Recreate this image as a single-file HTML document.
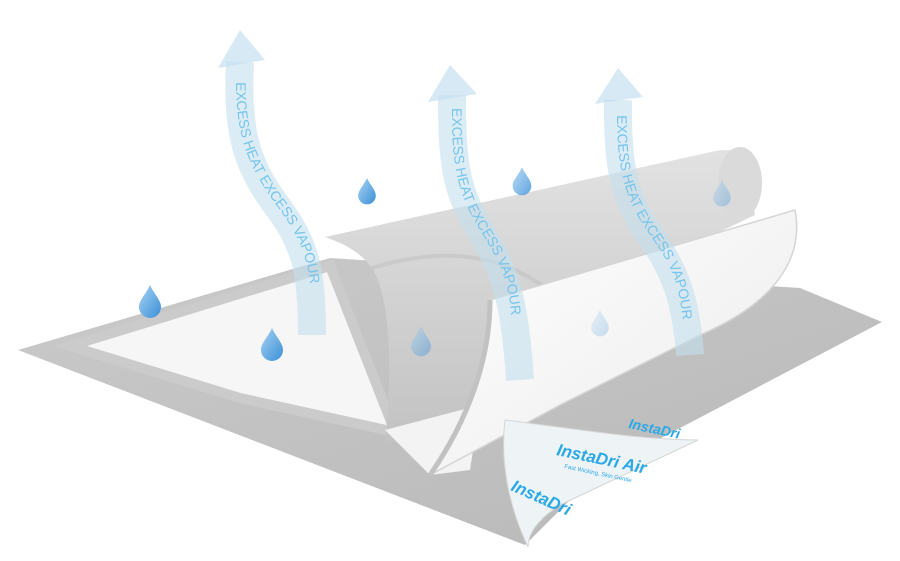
<!DOCTYPE html>
<html><head><meta charset="utf-8"><style>
html,body{margin:0;padding:0;background:#fff;width:900px;height:561px;overflow:hidden}
</style></head><body>
<svg width="900" height="561" viewBox="0 0 900 561" xmlns="http://www.w3.org/2000/svg">
<defs>
<linearGradient id="drop" x1="0" y1="0" x2="1" y2="1"><stop offset="0" stop-color="#a8d4f4"/><stop offset="1" stop-color="#3b8fd6"/></linearGradient>
<linearGradient id="grayl" x1="0" y1="0" x2="0" y2="1"><stop offset="0" stop-color="#e2e2e2"/><stop offset="1" stop-color="#c2c2c2"/></linearGradient>
<linearGradient id="whitec" x1="0" y1="0" x2="1" y2="1"><stop offset="0" stop-color="#ffffff"/><stop offset="1" stop-color="#ebebeb"/></linearGradient>
<linearGradient id="base" x1="0" y1="0" x2="1" y2="1"><stop offset="0" stop-color="#cacaca"/><stop offset="1" stop-color="#b8b8b8"/></linearGradient>
<path id="d" d="M0,-15 C4,-6 11,0 11,7 A11,11 0 0 1 -11,7 C-11,0 -4,-6 0,-15 Z"/>
<path id="p1" d="M236,82 C236,140 250,170 280,210 C305,245 312,270 312,320"/>
<path id="p2" d="M452,108 C452,160 455,190 480,230 C505,270 512,290 512,340"/>
<path id="p3" d="M617,115 C617,170 625,200 650,235 C675,270 682,290 684,345"/>
</defs>
<polygon points="18,350 330,258 800,288 882,322 600,470 525,545" fill="url(#base)"/>
<polygon points="70,346 330,266 395,432 240,398" fill="#f6f6f6" stroke="#cbcbcb" stroke-width="10"/>
<path d="M325,237 L720,150 L745,150 L755,215 L545,315 L490,330 L480,420 L385,445 C392,380 392,300 372,268 C360,252 345,244 325,237 Z" fill="url(#grayl)"/>
<ellipse cx="740" cy="183" rx="22" ry="36" fill="#dadada"/>
<path d="M372,268 C430,250 500,245 560,300" stroke="#bdbdbd" stroke-width="4" fill="none" opacity="0.5"/>
<polygon points="385,430 480,405 470,470 430,475" fill="#f3f3f3"/>
<path d="M490,300 L795,210 C805,262 770,305 700,335 L560,405 L430,475 C468,420 490,360 490,300 Z" fill="url(#whitec)" stroke="#d5d5d5" stroke-width="1.5"/>
<path d="M490,300 C490,360 468,420 430,475" stroke="#c2c2c2" stroke-width="5" fill="none"/>
<path d="M505,420 C570,428 640,440 698,440 L560,505 C540,518 528,532 528,547 C508,505 500,460 505,420 Z" fill="#eef3f6" stroke="#d5d5d5"/>
<text x="0" y="0" transform="translate(556,455) rotate(12)" font-family="Liberation Sans,sans-serif" font-size="17" font-weight="bold" font-style="italic" fill="#29a9e6">InstaDri Air</text>
<text x="0" y="0" transform="translate(564,468) rotate(12)" font-family="Liberation Sans,sans-serif" font-size="6" fill="#29a9e6">Fast Wicking, Skin Gentle</text>
<text x="0" y="0" transform="translate(510,490) rotate(24)" font-family="Liberation Sans,sans-serif" font-size="17" font-weight="bold" font-style="italic" fill="#29a9e6">InstaDri</text>
<text x="0" y="0" transform="translate(628,428) rotate(12)" font-family="Liberation Sans,sans-serif" font-size="14" font-weight="bold" font-style="italic" fill="#29a9e6">InstaDri</text>
<g opacity="0.6" fill="none" stroke="#c4e0ef" stroke-width="28" stroke-linecap="butt">
<path d="M240,62 C236,140 250,170 280,210 C305,245 312,270 312,335"/>
<path d="M452,95 C452,160 455,190 480,230 C505,270 515,300 520,380"/>
<path d="M618,100 C617,170 625,200 650,235 C675,270 686,300 690,355"/>
</g>
<g fill="#c4e0ef" opacity="0.7">
<polygon points="218,68 240,30 265,60"/>
<polygon points="428,102 450,65 477,94"/>
<polygon points="595,104 618,68 643,97"/>
</g>
<g font-family="Liberation Sans,sans-serif" font-size="14" fill="#74c4ec">
<text><textPath href="#p1">EXCESS HEAT  EXCESS VAPOUR</textPath></text>
<text><textPath href="#p2">EXCESS HEAT  EXCESS VAPOUR</textPath></text>
<text><textPath href="#p3">EXCESS HEAT  EXCESS VAPOUR</textPath></text>
</g>
<g fill="url(#drop)">
<use href="#d" transform="translate(150,300)"/>
<use href="#d" transform="translate(272,343)"/>
<use href="#d" transform="translate(367,190) scale(0.8)"/>
<use href="#d" transform="translate(522,180) scale(0.85)" opacity="0.8"/>
<use href="#d" transform="translate(722,192) scale(0.8)" opacity="0.35"/>
<use href="#d" transform="translate(421,340) scale(0.9)" opacity="0.45"/>
<use href="#d" transform="translate(600,322) scale(0.8)" opacity="0.25"/>
</g>
</svg>
</body></html>
